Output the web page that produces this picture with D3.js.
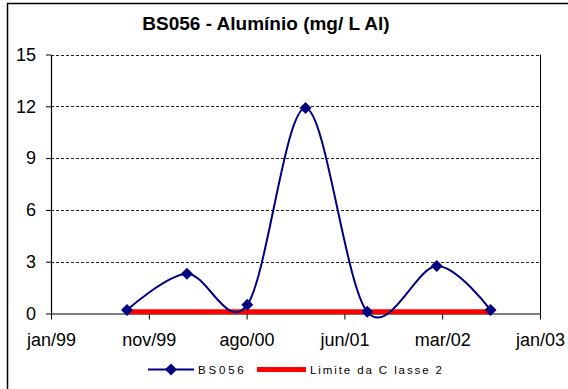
<!DOCTYPE html>
<html>
<head>
<meta charset="utf-8">
<script src="https://cdn.jsdelivr.net/npm/d3@7"></script>
<style>
  body { margin: 0; background: #fff; }
  text { font-family: Arial, "Liberation Sans", sans-serif; }
</style>
</head>
<body>
<div id="chart"></div>
<script>

// sample dates and aluminium values (mg/L Al)
var sampleDates = ["1999-09-11", "2000-03-05", "2000-08-29", "2001-02-16", "2001-08-16", "2002-03-08", "2002-08-13"];
var sampleValues = [0.2, 2.3, 0.5, 11.9, 0.1, 2.75, 0.2];

// class 2 limit
var limitValue = 0.1;

// axis ticks
var tickDates = ["1999-01-31", "1999-11-14", "2000-08-27", "2001-06-10", "2002-03-24", "2003-01-05"];
var tickLabels = ["jan/99", "nov/99", "ago/00", "jun/01", "mar/02", "jan/03"];
var yTicks = [0, 3, 6, 9, 12, 15];

function main() {

    var width = 568, height = 389;
    var plot = {left: 51, right: 540, top: 54.5, bottom: 313.5};

    var parse = d3.utcParse("%Y-%m-%d");

    var svg = d3.select("#chart")
        .append("svg")
        .attr("width", width)
        .attr("height", height);

    // outer chart frame (runs off the right and bottom edge)
    svg.append("rect")
        .attr("x", 7.5)
        .attr("y", 3.5)
        .attr("width", 600)
        .attr("height", 420)
        .attr("fill", "#fff")
        .attr("stroke", "#000")
        .attr("stroke-width", 1.5);

    // title
    svg.append("text")
        .attr("x", 266)
        .attr("y", 30)
        .attr("text-anchor", "middle")
        .attr("font-size", "19px")
        .attr("font-weight", "bold")
        .text("BS056 - Alumínio (mg/ L Al)");

    var x = d3.scaleUtc()
        .domain([parse(tickDates[0]), parse(tickDates[tickDates.length - 1])])
        .range([plot.left, plot.right]);

    var y = d3.scaleLinear()
        .domain([0, 15])
        .range([plot.bottom, plot.top]);

    // dashed gridlines
    svg.append("g")
        .selectAll("line")
        .data(yTicks.filter(function (d) { return d > 0; }))
        .join("line")
            .attr("x1", plot.left)
            .attr("x2", plot.right)
            .attr("y1", function (d) { return Math.round(y(d)) + 0.5; })
            .attr("y2", function (d) { return Math.round(y(d)) + 0.5; })
            .attr("stroke", "#222")
            .attr("stroke-width", 1)
            .attr("stroke-dasharray", "3,2");

    // right border of plot area
    svg.append("line")
        .attr("x1", plot.right + 0.5).attr("x2", plot.right + 0.5)
        .attr("y1", plot.top).attr("y2", plot.bottom)
        .attr("stroke", "#000");

    // Y axis
    var yAxis = svg.append("g")
        .attr("transform", "translate(" + plot.left + ",0)")
        .call(d3.axisLeft(y).tickValues(yTicks).tickSize(5).tickSizeOuter(0).tickPadding(10));
    yAxis.select(".domain").attr("stroke", "#000").attr("stroke-width", 1.2);
    yAxis.selectAll("text")
        .attr("font-size", "18px")
        .attr("font-family", "Arial, 'Liberation Sans', sans-serif")
        .attr("fill", "#000");

    // X axis
    var xAxis = svg.append("g")
        .attr("transform", "translate(0," + plot.bottom + ")")
        .call(d3.axisBottom(x)
            .tickValues(tickDates.map(parse))
            .tickFormat(function (d, i) { return tickLabels[i]; })
            .tickSize(6).tickSizeOuter(0).tickPadding(14));
    xAxis.select(".domain").attr("stroke", "#000").attr("stroke-width", 1.2);
    xAxis.selectAll("text")
        .attr("font-size", "18px")
        .attr("font-family", "Arial, 'Liberation Sans', sans-serif")
        .attr("fill", "#000");

    var series = sampleDates.map(function (d, i) {
        return {date: parse(d), value: sampleValues[i]};
    });

    // limit line between first and last sample
    svg.append("line")
        .attr("x1", x(series[0].date))
        .attr("x2", x(series[series.length - 1].date))
        .attr("y1", y(limitValue))
        .attr("y2", y(limitValue))
        .attr("stroke", "#ff0000")
        .attr("stroke-width", 5);

    // smoothed series line
    var line = d3.line()
        .x(function (d) { return x(d.date); })
        .y(function (d) { return y(d.value); })
        .curve(d3.curveCardinal.tension(0));

    svg.append("path")
        .datum(series)
        .attr("fill", "none")
        .attr("stroke", "#000080")
        .attr("stroke-width", 2)
        .attr("d", line);

    var diamond = "M0,-6L6,0L0,6L-6,0Z";

    svg.append("g")
        .selectAll("path")
        .data(series)
        .join("path")
            .attr("d", diamond)
            .attr("transform", function (d) {
                return "translate(" + x(d.date) + "," + y(d.value) + ")";
            })
            .attr("fill", "#000080");

    // legend
    var ly = 369.5;
    svg.append("line")
        .attr("x1", 148).attr("x2", 194)
        .attr("y1", ly).attr("y2", ly)
        .attr("stroke", "#000080")
        .attr("stroke-width", 2);
    svg.append("path")
        .attr("d", diamond)
        .attr("transform", "translate(171," + ly + ")")
        .attr("fill", "#000080");
    svg.append("text")
        .attr("x", 198)
        .attr("y", ly + 4)
        .attr("font-size", "11.5px")
        .attr("letter-spacing", "2.8px")
        .text("BS056");

    svg.append("line")
        .attr("x1", 257).attr("x2", 306)
        .attr("y1", ly).attr("y2", ly)
        .attr("stroke", "#ff0000")
        .attr("stroke-width", 5);
    svg.append("text")
        .attr("x", 310)
        .attr("y", ly + 4)
        .attr("font-size", "11.5px")
        .attr("letter-spacing", "1.9px")
        .text("Limite da C lasse 2");
}

main()
</script>
</body>
</html>
